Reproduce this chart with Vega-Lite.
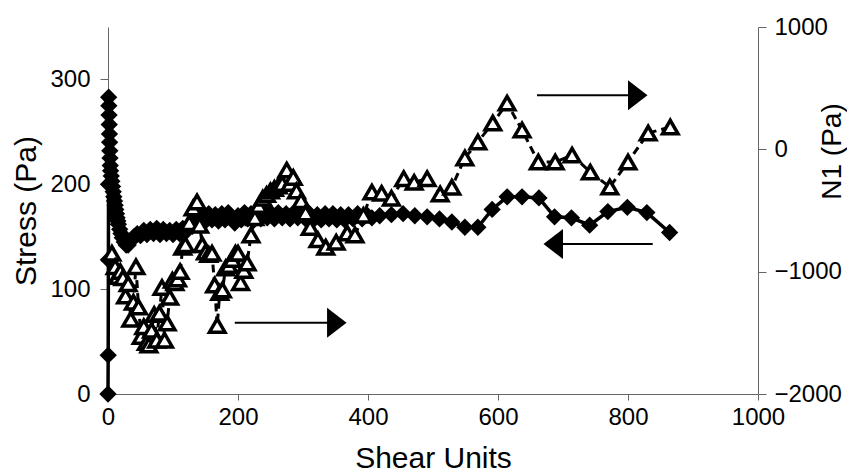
{
  "$schema": "https://vega.github.io/schema/vega-lite/v6.json",
  "width": 650,
  "height": 367,
  "autosize": {"type": "none"},
  "padding": {"left": 108, "top": 27, "right": 89, "bottom": 80},
  "background": "white",
  "config": {
    "view": {"stroke": null},
    "font": "Liberation Sans",
    "axis": {
      "grid": false,
      "domainColor": "#666666",
      "tickColor": "#666666",
      "labelColor": "black",
      "titleColor": "black",
      "labelFontSize": 24,
      "titleFontSize": 30,
      "titleFontWeight": "normal",
      "labelOverlap": false,
      "labelBound": false,
      "labelFlush": false,
      "format": "d"
    }
  },
  "datasets": {
    "stress": [
      {"shear": 0, "stress": 0},
      {"shear": 0.3, "stress": 37},
      {"shear": 0.6, "stress": 128},
      {"shear": 0.8, "stress": 200},
      {"shear": 1, "stress": 283},
      {"shear": 1.3, "stress": 275},
      {"shear": 1.6, "stress": 266},
      {"shear": 1.9, "stress": 257},
      {"shear": 2.2, "stress": 248},
      {"shear": 2.5, "stress": 240},
      {"shear": 2.8, "stress": 232},
      {"shear": 3.1, "stress": 225},
      {"shear": 3.5, "stress": 218},
      {"shear": 4, "stress": 213},
      {"shear": 5, "stress": 208},
      {"shear": 6, "stress": 203},
      {"shear": 7, "stress": 198},
      {"shear": 8, "stress": 193},
      {"shear": 9, "stress": 188},
      {"shear": 10, "stress": 184},
      {"shear": 11, "stress": 180},
      {"shear": 12, "stress": 176},
      {"shear": 13, "stress": 172},
      {"shear": 14, "stress": 168},
      {"shear": 15, "stress": 165},
      {"shear": 16, "stress": 162},
      {"shear": 18, "stress": 157},
      {"shear": 20, "stress": 153},
      {"shear": 22, "stress": 149},
      {"shear": 25, "stress": 145},
      {"shear": 28, "stress": 142},
      {"shear": 31, "stress": 142},
      {"shear": 35, "stress": 146},
      {"shear": 40, "stress": 150},
      {"shear": 45, "stress": 153},
      {"shear": 50, "stress": 151},
      {"shear": 55, "stress": 156},
      {"shear": 60, "stress": 152},
      {"shear": 65, "stress": 157},
      {"shear": 70, "stress": 153},
      {"shear": 75, "stress": 158},
      {"shear": 80, "stress": 152},
      {"shear": 85, "stress": 157},
      {"shear": 90, "stress": 153},
      {"shear": 95, "stress": 156},
      {"shear": 100, "stress": 152},
      {"shear": 105, "stress": 157},
      {"shear": 110, "stress": 153},
      {"shear": 115, "stress": 158},
      {"shear": 120, "stress": 155},
      {"shear": 125, "stress": 161},
      {"shear": 130, "stress": 160},
      {"shear": 135, "stress": 167},
      {"shear": 140, "stress": 164},
      {"shear": 145, "stress": 171},
      {"shear": 150, "stress": 165},
      {"shear": 155, "stress": 172},
      {"shear": 160, "stress": 166},
      {"shear": 165, "stress": 171},
      {"shear": 170, "stress": 165},
      {"shear": 175, "stress": 172},
      {"shear": 180, "stress": 166},
      {"shear": 185, "stress": 173},
      {"shear": 190, "stress": 167},
      {"shear": 195, "stress": 163},
      {"shear": 200, "stress": 170},
      {"shear": 205, "stress": 166},
      {"shear": 210, "stress": 173},
      {"shear": 215, "stress": 167},
      {"shear": 220, "stress": 172},
      {"shear": 225, "stress": 166},
      {"shear": 230, "stress": 173},
      {"shear": 235, "stress": 167},
      {"shear": 240, "stress": 174},
      {"shear": 245, "stress": 168},
      {"shear": 250, "stress": 173},
      {"shear": 256, "stress": 167},
      {"shear": 262, "stress": 173},
      {"shear": 268, "stress": 168},
      {"shear": 274, "stress": 172},
      {"shear": 280, "stress": 167},
      {"shear": 286, "stress": 173},
      {"shear": 292, "stress": 168},
      {"shear": 298, "stress": 172},
      {"shear": 304, "stress": 167},
      {"shear": 310, "stress": 172},
      {"shear": 316, "stress": 166},
      {"shear": 322, "stress": 171},
      {"shear": 328, "stress": 166},
      {"shear": 334, "stress": 172},
      {"shear": 340, "stress": 167},
      {"shear": 346, "stress": 172},
      {"shear": 352, "stress": 166},
      {"shear": 358, "stress": 171},
      {"shear": 364, "stress": 166},
      {"shear": 370, "stress": 171},
      {"shear": 377, "stress": 167},
      {"shear": 384, "stress": 172},
      {"shear": 391, "stress": 167},
      {"shear": 398, "stress": 171},
      {"shear": 406, "stress": 168},
      {"shear": 418, "stress": 170},
      {"shear": 436, "stress": 171},
      {"shear": 454, "stress": 172},
      {"shear": 472, "stress": 170},
      {"shear": 491, "stress": 169},
      {"shear": 510, "stress": 167},
      {"shear": 529, "stress": 164},
      {"shear": 549, "stress": 159},
      {"shear": 569, "stress": 159},
      {"shear": 591, "stress": 176},
      {"shear": 614, "stress": 188},
      {"shear": 637, "stress": 188},
      {"shear": 663, "stress": 187},
      {"shear": 687, "stress": 169},
      {"shear": 713, "stress": 168},
      {"shear": 741, "stress": 161},
      {"shear": 769, "stress": 174},
      {"shear": 799, "stress": 178},
      {"shear": 829, "stress": 173},
      {"shear": 864, "stress": 154}
    ],
    "n1": [
      {"shear": 6, "n1": -850},
      {"shear": 11, "n1": -960},
      {"shear": 15, "n1": -1040},
      {"shear": 19, "n1": -1000},
      {"shear": 23, "n1": -1050},
      {"shear": 27, "n1": -1200},
      {"shear": 31, "n1": -1100},
      {"shear": 35, "n1": -1390},
      {"shear": 39, "n1": -1250},
      {"shear": 43, "n1": -960},
      {"shear": 47, "n1": -1290},
      {"shear": 51, "n1": -1530},
      {"shear": 55, "n1": -1450},
      {"shear": 59, "n1": -1580},
      {"shear": 63, "n1": -1600},
      {"shear": 67, "n1": -1480},
      {"shear": 71, "n1": -1350},
      {"shear": 75, "n1": -1560},
      {"shear": 79, "n1": -1340},
      {"shear": 83, "n1": -1130},
      {"shear": 87, "n1": -1560},
      {"shear": 91, "n1": -1420},
      {"shear": 95, "n1": -1210},
      {"shear": 99, "n1": -1070},
      {"shear": 103, "n1": -1090},
      {"shear": 107, "n1": -1060},
      {"shear": 111, "n1": -1000},
      {"shear": 115, "n1": -800},
      {"shear": 119, "n1": -780},
      {"shear": 125, "n1": -600},
      {"shear": 131, "n1": -480},
      {"shear": 137, "n1": -430},
      {"shear": 141, "n1": -620},
      {"shear": 145, "n1": -780},
      {"shear": 150, "n1": -840},
      {"shear": 155, "n1": -860},
      {"shear": 160, "n1": -850},
      {"shear": 164, "n1": -1110},
      {"shear": 168, "n1": -1440},
      {"shear": 172, "n1": -1170},
      {"shear": 176, "n1": -1150},
      {"shear": 181, "n1": -970},
      {"shear": 186, "n1": -950},
      {"shear": 191, "n1": -900},
      {"shear": 196, "n1": -850},
      {"shear": 200, "n1": -850},
      {"shear": 204, "n1": -1090},
      {"shear": 209, "n1": -990},
      {"shear": 214, "n1": -930},
      {"shear": 220, "n1": -700},
      {"shear": 226, "n1": -560},
      {"shear": 232, "n1": -460},
      {"shear": 238, "n1": -400},
      {"shear": 244, "n1": -370},
      {"shear": 250, "n1": -340},
      {"shear": 256, "n1": -320},
      {"shear": 262, "n1": -300},
      {"shear": 268, "n1": -280},
      {"shear": 275, "n1": -170},
      {"shear": 280, "n1": -280},
      {"shear": 285, "n1": -230},
      {"shear": 290, "n1": -340},
      {"shear": 297, "n1": -420},
      {"shear": 304, "n1": -520},
      {"shear": 311, "n1": -640},
      {"shear": 323, "n1": -740},
      {"shear": 335, "n1": -800},
      {"shear": 351, "n1": -760},
      {"shear": 368, "n1": -685},
      {"shear": 380, "n1": -700},
      {"shear": 393, "n1": -540},
      {"shear": 406, "n1": -350},
      {"shear": 421, "n1": -360},
      {"shear": 436, "n1": -400},
      {"shear": 455, "n1": -240},
      {"shear": 471, "n1": -270},
      {"shear": 491, "n1": -240},
      {"shear": 511, "n1": -365},
      {"shear": 529, "n1": -310},
      {"shear": 549, "n1": -71},
      {"shear": 569, "n1": 60},
      {"shear": 592, "n1": 215},
      {"shear": 614, "n1": 378},
      {"shear": 637, "n1": 158},
      {"shear": 662, "n1": -104},
      {"shear": 688, "n1": -104},
      {"shear": 714, "n1": -47},
      {"shear": 742, "n1": -186},
      {"shear": 772, "n1": -308},
      {"shear": 800, "n1": -104},
      {"shear": 831, "n1": 133},
      {"shear": 865, "n1": 182}
    ],
    "arrows": [
      {"shear": 195, "shear2": 352, "head": 352, "stress": 68, "dir": "right"},
      {"shear": 660, "shear2": 815, "head": 815, "stress": 285, "dir": "right"},
      {"shear": 685, "shear2": 838, "head": 685, "stress": 143, "dir": "left"}
    ]
  },
  "encoding": {
    "x": {
      "field": "shear",
      "type": "quantitative",
      "scale": {"domain": [0, 1000], "nice": false, "zero": false},
      "axis": {
        "values": [0, 200, 400, 600, 800, 1000],
        "title": "Shear Units",
        "tickSize": 6,
        "labelPadding": 5,
        "titlePadding": 14
      }
    }
  },
  "layer": [
    {
      "encoding": {
        "y": {
          "field": "stress",
          "type": "quantitative",
          "scale": {"domain": [0, 350], "nice": false},
          "axis": {
            "orient": "left",
            "values": [0, 100, 200, 300],
            "title": "Stress (Pa)",
            "tickSize": 8,
            "labelPadding": 10,
            "titlePadding": 8
          }
        }
      },
      "layer": [
        {
          "data": {"name": "stress"},
          "mark": {"type": "line", "color": "black", "strokeWidth": 3.5},
          "encoding": {"order": {"field": "shear", "type": "quantitative"}}
        },
        {
          "data": {"name": "stress"},
          "mark": {"type": "point", "shape": "diamond", "filled": true, "color": "black", "size": 300, "opacity": 1}
        },
        {
          "data": {"name": "arrows"},
          "mark": {"type": "rule", "color": "black", "strokeWidth": 2},
          "encoding": {"x2": {"field": "shear2"}}
        },
        {
          "data": {"name": "arrows"},
          "mark": {"type": "point", "filled": true, "color": "black", "size": 900, "opacity": 1},
          "encoding": {
            "x": {"field": "head", "type": "quantitative"},
            "shape": {
              "field": "dir",
              "type": "nominal",
              "scale": {"domain": ["right", "left"], "range": ["M-0.65,-1L0.65,0L-0.65,1Z", "M0.65,-1L-0.65,0L0.65,1Z"]},
              "legend": null
            }
          }
        }
      ]
    },
    {
      "data": {"name": "n1"},
      "encoding": {
        "y": {
          "field": "n1",
          "type": "quantitative",
          "scale": {"domain": [-2000, 1000], "nice": false, "zero": false},
          "axis": {
            "orient": "right",
            "values": [-2000, -1000, 0, 1000],
            "title": "N1 (Pa)",
            "titleFontSize": 28,
            "titleAngle": 270,
            "titleX": 74,
            "titleY": 124,
            "titleAlign": "center",
            "titleBaseline": "middle",
            "tickSize": 8,
            "labelPadding": 8
          }
        }
      },
      "layer": [
        {
          "mark": {"type": "line", "color": "black", "strokeWidth": 3, "strokeDash": [8, 5]},
          "encoding": {"order": {"field": "shear", "type": "quantitative"}}
        },
        {
          "mark": {"type": "point", "shape": "triangle-up", "filled": false, "fill": "white", "stroke": "black", "strokeWidth": 3.5, "size": 240, "opacity": 1}
        }
      ]
    }
  ],
  "resolve": {"scale": {"y": "independent"}}
}
